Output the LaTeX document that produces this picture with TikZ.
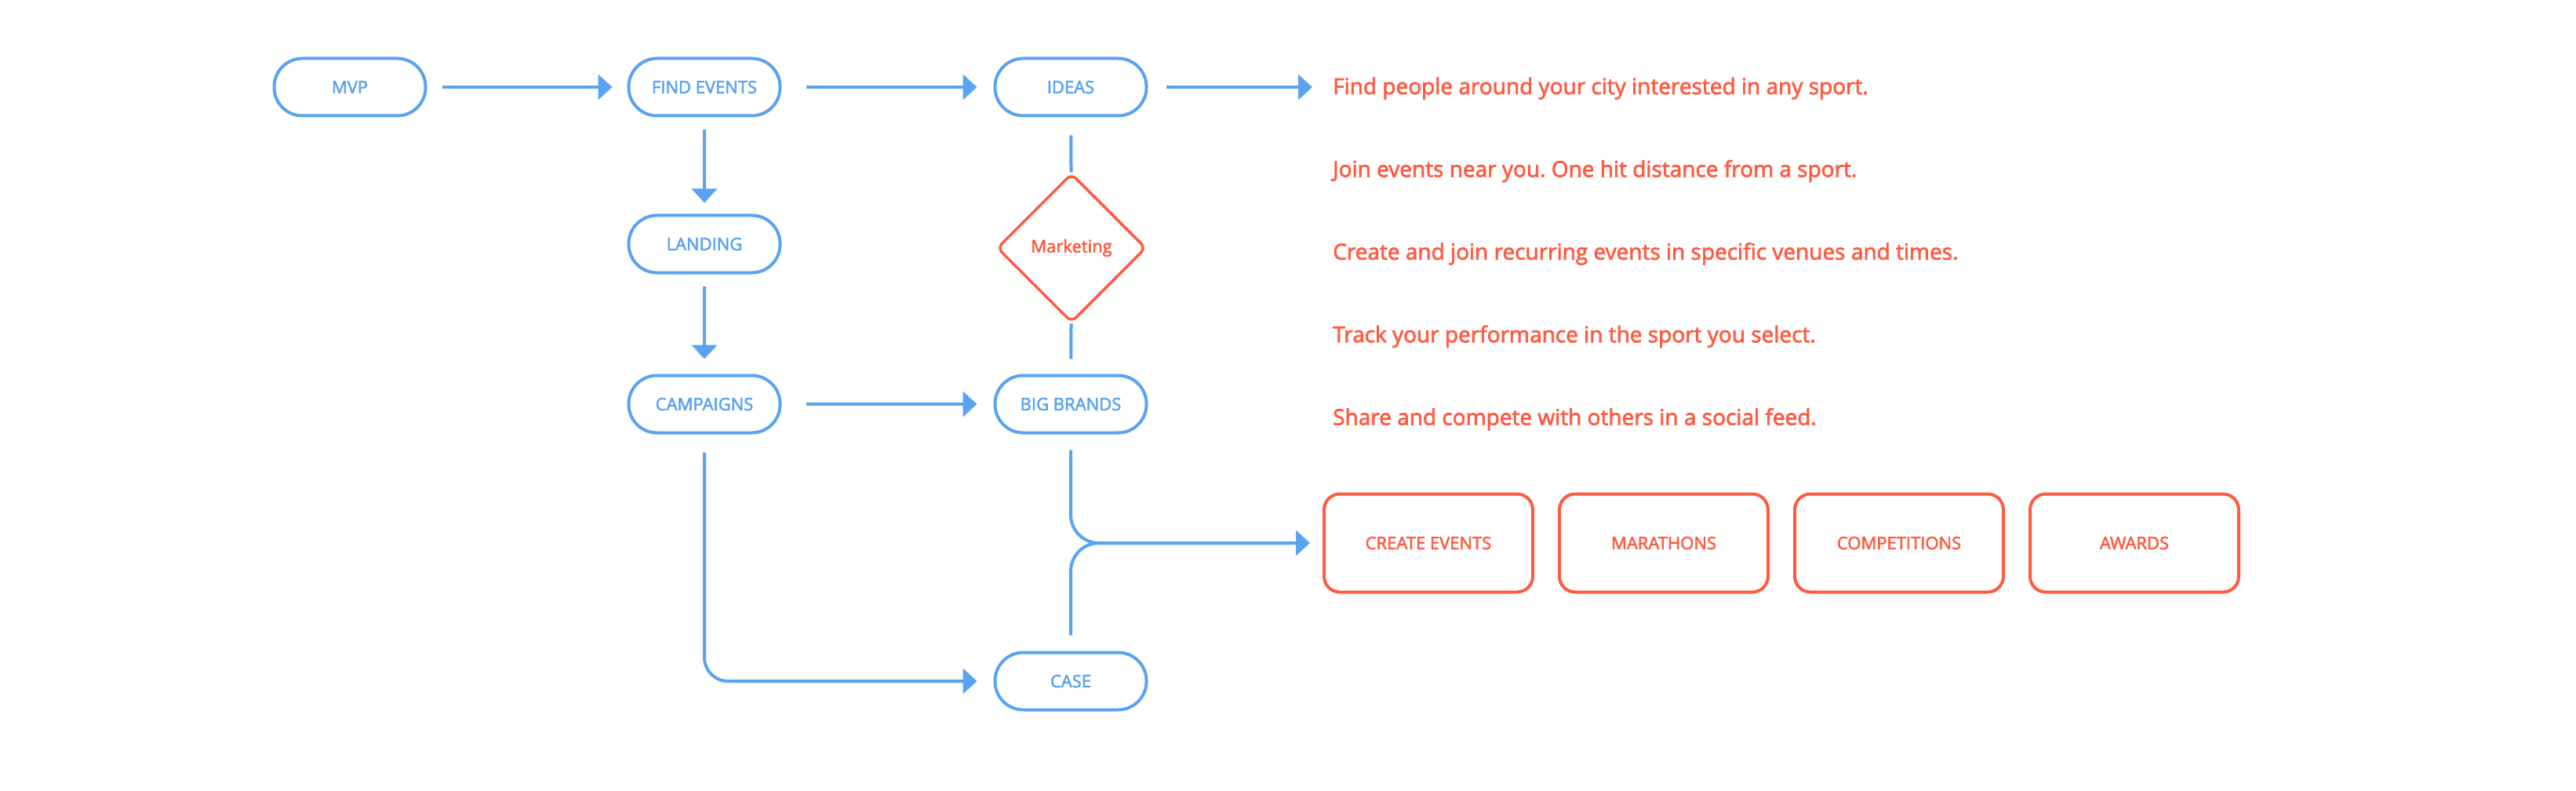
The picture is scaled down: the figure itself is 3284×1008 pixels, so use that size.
\documentclass[tikz,border=0pt]{standalone}
\usepackage{fontspec}
\setmainfont{Open Sans}[FakeBold=2.5]
\usetikzlibrary{arrows.meta,positioning,shapes.geometric}
\definecolor{flowblue}{HTML}{5AA3F0}
\definecolor{flowred}{HTML}{FF5B42}
\frenchspacing

\begin{document}
\begin{tikzpicture}[x=1pt,y=-1pt,
  pill/.style={draw=flowblue,line width=4pt,rounded corners=36pt,minimum width=193pt,minimum height=73pt,text=flowblue,font=\fontsize{22}{26}\selectfont},
  rbox/.style={draw=flowred,line width=4pt,rounded corners=20pt,minimum width=266pt,minimum height=125pt,text=flowred,font=\fontsize{22}{26}\selectfont},
  decide/.style={diamond,draw=flowred,line width=3.5pt,rounded corners=8pt,minimum width=190pt,minimum height=190pt,inner sep=0pt,text=flowred,font=\fontsize{22}{26}\selectfont},
  note/.style={text=flowred,inner sep=0pt,anchor=west,text height=20pt,text depth=6pt,font=\fontsize{28}{32}\selectfont},
  line/.style={flowblue,line width=4pt},
  arrow/.style={line,-{Triangle[length=18pt,width=32pt]}}
]
\useasboundingbox[fill=white] (0,0) rectangle (3284,1008);
\node[pill] (mvp) at (446,111) {MVP};
\node[pill,right=255pt of mvp] (find) {FIND EVENTS};
\node[pill,right=270pt of find] (ideas) {IDEAS};
\node[pill,below=123pt of find] (landing) {LANDING};
\node[pill,below=127pt of landing] (camp) {CAMPAIGNS};
\node[pill] (brands) at (ideas |- camp) {BIG BRANDS};
\node[decide] (mkt) at (1366,316) {Marketing};
\node[pill,below=276pt of brands] (case) {CASE};
\node[rbox] (create) at (1821,692) {CREATE EVENTS};
\node[rbox,right=30pt of create] (mara) {MARATHONS};
\node[rbox,right=30pt of mara] (comp) {COMPETITIONS};
\node[rbox,right=30pt of comp] (awards) {AWARDS};
% feature notes
\node[note] (t1) at (1699,113) {Find people around your city interested in any sport.};
\node[note,below=79pt of t1.south west,anchor=north west] (t2) {Join events near you. One hit distance from a sport.};
\node[note,below=79pt of t2.south west,anchor=north west] (t3) {Create and join recurring events in specific venues and times.};
\node[note,below=79pt of t3.south west,anchor=north west] (t4) {Track your performance in the sport you select.};
\node[note,below=79pt of t4.south west,anchor=north west] (t5) {Share and compete with others in a social feed.};
\draw[arrow,shorten <=19pt,shorten >=19pt] (mvp) -- (find);
\draw[arrow,shorten <=31pt,shorten >=21pt] (find) -- (ideas);
\draw[arrow,shorten <=23pt,shorten >=26pt] (ideas.east) -- (ideas.east -| t1.west);
\draw[arrow,shorten <=16pt,shorten >=14pt] (find) -- (landing);
\draw[arrow,shorten <=15pt,shorten >=19pt] (landing) -- (camp);
\draw[arrow,shorten <=31pt,shorten >=21pt] (camp) -- (brands);
\draw[line,shorten <=23pt] (ideas) -- (mkt);
\draw[line,shorten >=19pt] (mkt) -- (brands);
\draw[arrow,rounded corners=36pt,shorten >=16pt] ([yshift=-20pt]brands.south) |- (create.west);
\draw[line,rounded corners=36pt,shorten >=40pt] ([yshift=20pt]case.north) |- (create.west);
\draw[arrow,rounded corners=30pt,shorten >=21pt] ([yshift=-23pt]camp.south) |- (case.west);
\end{tikzpicture}
\end{document}
